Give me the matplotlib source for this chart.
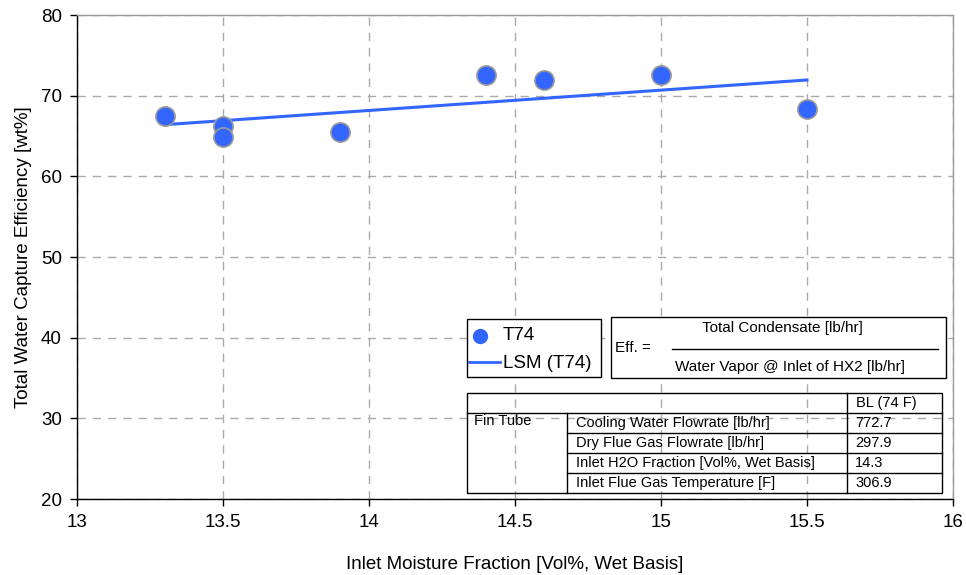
import numpy as np
import matplotlib
matplotlib.use('Agg')
import matplotlib.pyplot as plt
from matplotlib.patches import Rectangle
from matplotlib.lines import Line2D

plt.rcParams['font.family'] = ['Liberation Sans', 'DejaVu Sans']

# measured points (T74)
moisture = [13.3, 13.5, 13.5, 13.9, 14.4, 14.6, 15.0, 15.5]
efficiency = [67.5, 66.3, 64.9, 65.5, 72.5, 72.0, 72.5, 68.4]

table_params = ['Cooling Water Flowrate [lb/hr]', 'Dry Flue Gas Flowrate [lb/hr]',
                'Inlet H2O Fraction [Vol%, Wet Basis]', 'Inlet Flue Gas Temperature [F]']
table_values = ['772.7', '297.9', '14.3', '306.9']

W, H = 966, 575
fig = plt.figure(figsize=(W / 100, H / 100), dpi=100)
ax = fig.add_axes([77 / W, 1 - 499 / H, (953 - 77) / W, (499 - 15) / H])

blue = '#3366ff'
ax.scatter(moisture, efficiency, s=190, color=blue, edgecolor='#999999',
           linewidth=1.2, zorder=4, clip_on=False)
slope, icpt = np.polyfit(moisture, efficiency, 1)
xf = np.array([min(moisture), max(moisture)])
ax.plot(xf, slope * xf + icpt, color=blue, lw=2.2, zorder=3)

ax.set_xlim(13, 16)
ax.set_ylim(20, 80)
ax.set_xticks(np.arange(13, 16.01, 0.5))
ax.set_xticklabels(['13', '13.5', '14', '14.5', '15', '15.5', '16'])
ax.set_yticks(range(20, 81, 10))
ax.tick_params(labelsize=13.5, direction='out', length=5, width=1, pad=6)
ax.grid(True, color='#aaaaaa', linestyle=(0, (6, 5)), linewidth=1)
ax.set_axisbelow(True)
ax.set_xlabel('Inlet Moisture Fraction [Vol%, Wet Basis]', fontsize=13.5, labelpad=18)
ax.set_ylabel('Total Water Capture Efficiency [wt%]', fontsize=13.5, labelpad=6)
ax.spines['top'].set_color('#999999')
ax.spines['right'].set_color('#999999')
for s in ax.spines.values():
    s.set_linewidth(1)


def P(x, y):
    return (x / W, 1 - y / H)


def box(x0, y0, x1, y1, lw=1.0):
    fig.add_artist(Rectangle(P(x0, y1), (x1 - x0) / W, (y1 - y0) / H,
                             fill=True, facecolor='white', edgecolor='black',
                             lw=lw, transform=fig.transFigure, zorder=5))


def hline(x0, x1, y):
    fig.add_artist(Line2D([x0 / W, x1 / W], [1 - y / H, 1 - y / H], color='black',
                          lw=1, transform=fig.transFigure, zorder=6))


def vline(x, y0, y1):
    fig.add_artist(Line2D([x / W, x / W], [1 - y0 / H, 1 - y1 / H], color='black',
                          lw=1, transform=fig.transFigure, zorder=6))


def txt(x, y, s, size=10.5, ha='left'):
    fig.text(*P(x, y), s, fontsize=size, ha=ha, va='center', zorder=7)


# legend box
box(467, 319, 601, 377)
fig.add_artist(Line2D([480 / W], [1 - 336 / H], marker='o', ms=10, color=blue,
                      transform=fig.transFigure, zorder=7))
txt(503, 336, 'T74', size=13.5)
fig.add_artist(Line2D([469 / W, 500 / W], [1 - 362 / H] * 2, color=blue, lw=2,
                      transform=fig.transFigure, zorder=7))
txt(503, 363, 'LSM (T74)', size=13.5)

# formula box
box(611, 317, 946, 378)
txt(615, 348, 'Eff. =', size=11)
txt(782, 328, 'Total Condensate [lb/hr]', size=11, ha='center')
hline(672, 938, 349)
txt(790, 367, 'Water Vapor @ Inlet of HX2 [lb/hr]', size=11, ha='center')

# parameter table (transparent, grid shows through)
fig.add_artist(Rectangle(P(467, 493), (942 - 467) / W, 100 / H, fill=False,
                         edgecolor='black', lw=1, transform=fig.transFigure, zorder=6))
hline(467, 942, 413)
for yy in (433, 453, 473):
    hline(567, 942, yy)
vline(567, 413, 493)
vline(847, 393, 493)
txt(856, 403, 'BL (74 F)')
txt(474, 421, 'Fin Tube')
for i, (p, v) in enumerate(zip(table_params, table_values)):
    yc = 423 + 20 * i
    txt(576, yc, p)
    txt(855, yc, v)

fig.savefig('out.png', dpi=100)
